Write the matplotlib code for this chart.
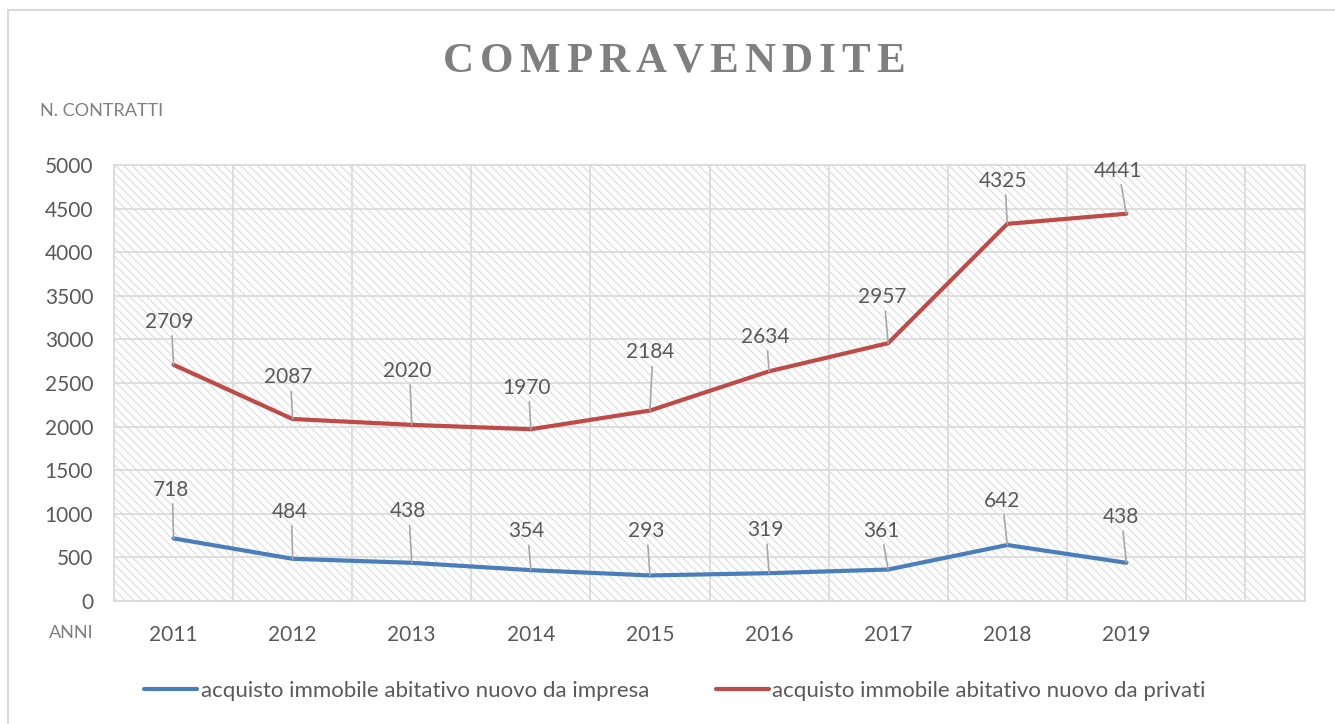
import matplotlib

matplotlib.use("Agg")
import matplotlib.pyplot as plt
from matplotlib.patches import Rectangle
import numpy as np

anni = ["2011", "2012", "2013", "2014", "2015", "2016", "2017", "2018", "2019"]
da_impresa = [718, 484, 438, 354, 293, 319, 361, 642, 438]
da_privati = [2709, 2087, 2020, 1970, 2184, 2634, 2957, 4325, 4441]
label_impresa = "acquisto immobile abitativo nuovo da impresa"
label_privati = "acquisto immobile abitativo nuovo da privati"

# label offsets (points) as placed in the original workbook
off_impresa = [(-2, 35), (-2, 34), (-3, 37), (-3, 28), (-3, 32), (-3, 31), (-5, 28), (-4, 32), (-4, 33)]
off_privati = [(-3, 31), (-3, 30), (-3, 39), (-3, 30), (0, 42), (-3, 25), (-4, 33), (-3, 31), (-6, 31)]

BLUE = "#4a7ebb"
RED = "#be4b48"
GRID = "#d9d9d9"
TXT = "#595959"
GREY = "#7f7f7f"

plt.rcParams["font.family"] = ["Lato", "DejaVu Sans"]
plt.rcParams["hatch.linewidth"] = 0.8

W, H = 1335, 724
fig = plt.figure(figsize=(W / 100, H / 100), dpi=100)
fig.patches.append(Rectangle((8 / W, -0.1), 1.2, 1 - 10 / H + 0.1, transform=fig.transFigure,
                             facecolor="none", edgecolor=GRID, lw=1.5, zorder=-1))

ax = fig.add_axes([114 / W, 1 - 601 / H, (1305 - 114) / W, (601 - 165) / H])
ax.set_facecolor("white")
ax.add_patch(Rectangle((0, 0), 1, 1, transform=ax.transAxes, facecolor="white",
                       edgecolor="#dcdcdc", hatch="\\\\\\\\", lw=0, zorder=0))

x = np.arange(len(anni))
ax.set_xlim(-0.5, 9.5)
ax.set_ylim(0, 5000)
ax.set_yticks(np.arange(0, 5001, 500))
ax.set_xticks(x)
ax.set_xticklabels(anni)
ax.set_xticks(np.arange(-0.5, 9.6, 0.5), minor=True)
ax.grid(True, which="minor", axis="x", color=GRID, lw=1.2, zorder=1)
ax.grid(True, which="major", axis="y", color=GRID, lw=1.2, zorder=1)
ax.set_axisbelow(False)
ax.tick_params(axis="both", which="both", length=0, colors=TXT, labelsize=15)
ax.tick_params(axis="y", pad=15)
ax.tick_params(axis="x", pad=17)
for s in ax.spines.values():
    s.set_color(GRID)
    s.set_linewidth(1.2)

ax.plot(x, da_impresa, color=BLUE, lw=3.0, solid_capstyle="round", zorder=3, label=label_impresa)
ax.plot(x, da_privati, color=RED, lw=3.0, solid_capstyle="round", zorder=3, label=label_privati)

for vals, offs in [(da_impresa, off_impresa), (da_privati, off_privati)]:
    for xi, v, (dx, dy) in zip(x, vals, offs):
        ax.annotate(str(v), (xi, v), xytext=(dx, dy), textcoords="offset points",
                    ha="center", va="center", fontsize=15, color=TXT, zorder=5,
                    arrowprops=dict(arrowstyle="-", color="#a6a6a6", lw=1.2,
                                    relpos=(0.55, 0), shrinkA=1, shrinkB=0))

fig.text(40 / W, 1 - 111 / H, "N. CONTRATTI", fontsize=13, color=GREY, ha="left", va="center")
fig.text(71 / W, 1 - 633 / H, "ANNI", fontsize=13, color=GREY, ha="center", va="center")

# spaced title letters
title = "COMPRAVENDITE"
renderer = fig.canvas.get_renderer()
letters = [fig.text(0, 1 - 72 / H, c, fontsize=31, fontweight="bold", color=GREY,
                    family="Liberation Serif", ha="left", va="baseline") for c in title]
widths = [t.get_window_extent(renderer).width for t in letters]
gap = (462 - sum(widths)) / (len(title) - 1)
pos = 443.0
for t, w in zip(letters, widths):
    t.set_x(pos / W)
    pos += w + gap

fig.legend(loc="center", bbox_to_anchor=(675 / W, 1 - 691 / H), ncol=2, frameon=False,
           fontsize=16, labelcolor=TXT, handlelength=2.4, handletextpad=0.15, columnspacing=3.0)

fig.savefig("out.png", dpi=100)
